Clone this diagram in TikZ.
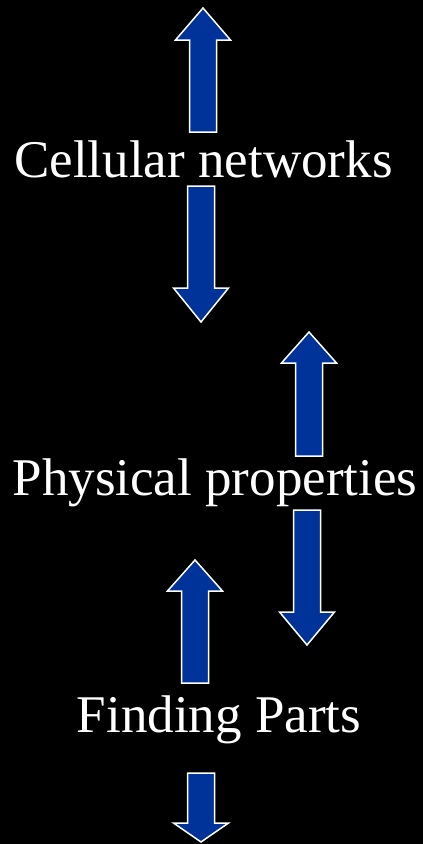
\documentclass[tikz,border=0pt]{standalone}
\usepackage{fontspec}
\setmainfont{Liberation Serif}
\usepackage{tikz}
\usetikzlibrary{backgrounds}
\definecolor{arrowblue}{RGB}{0, 51, 153}

\begin{document}
\begin{tikzpicture}[x=1pt, y=-1pt,
    blockarrow/.style={fill=arrowblue, draw=white, line width=1.5pt, line join=miter},
    label/.style={text=white, font=\fontsize{53}{60}\selectfont, inner sep=0pt, anchor=base}]
  \fill[black] (0,0) rectangle (423,844);
  \useasboundingbox (0,0) rectangle (423,844);
  \clip (0,0) rectangle (423,844);
  % up arrow above the first label
  \draw[blockarrow] (203,8) -- (230.5,40) -- (216.5,40) -- (216.5,132)
    -- (189.5,132) -- (189.5,40) -- (175.5,40) -- cycle;
  \node[label] (cellnet) at (203.5,177) {Cellular networks};
  \draw[blockarrow] (187.5,186) -- (214.5,186) -- (214.5,288) -- (228.5,288)
    -- (201,322) -- (173.5,288) -- (187.5,288) -- cycle;
  % right-hand pair
  \draw[blockarrow] (309,332) -- (336.5,363) -- (322.5,363) -- (322.5,456)
    -- (295.5,456) -- (295.5,363) -- (281.5,363) -- cycle;
  \node[label] (physprop) at (215,495) {Physical properties};
  \draw[blockarrow] (293.5,510) -- (320.5,510) -- (320.5,612) -- (334.5,612)
    -- (307,645) -- (279.5,612) -- (293.5,612) -- cycle;
  % lower pair
  \draw[blockarrow] (195,560) -- (222.5,591) -- (208.5,591) -- (208.5,683)
    -- (181.5,683) -- (181.5,591) -- (167.5,591) -- cycle;
  \node[label] (findparts) at (219,732) {Finding Parts};
  \draw[blockarrow] (187.5,773) -- (214.5,773) -- (214.5,823) -- (228.5,823)
    -- (201,842) -- (173.5,823) -- (187.5,823) -- cycle;
\end{tikzpicture}
\end{document}
